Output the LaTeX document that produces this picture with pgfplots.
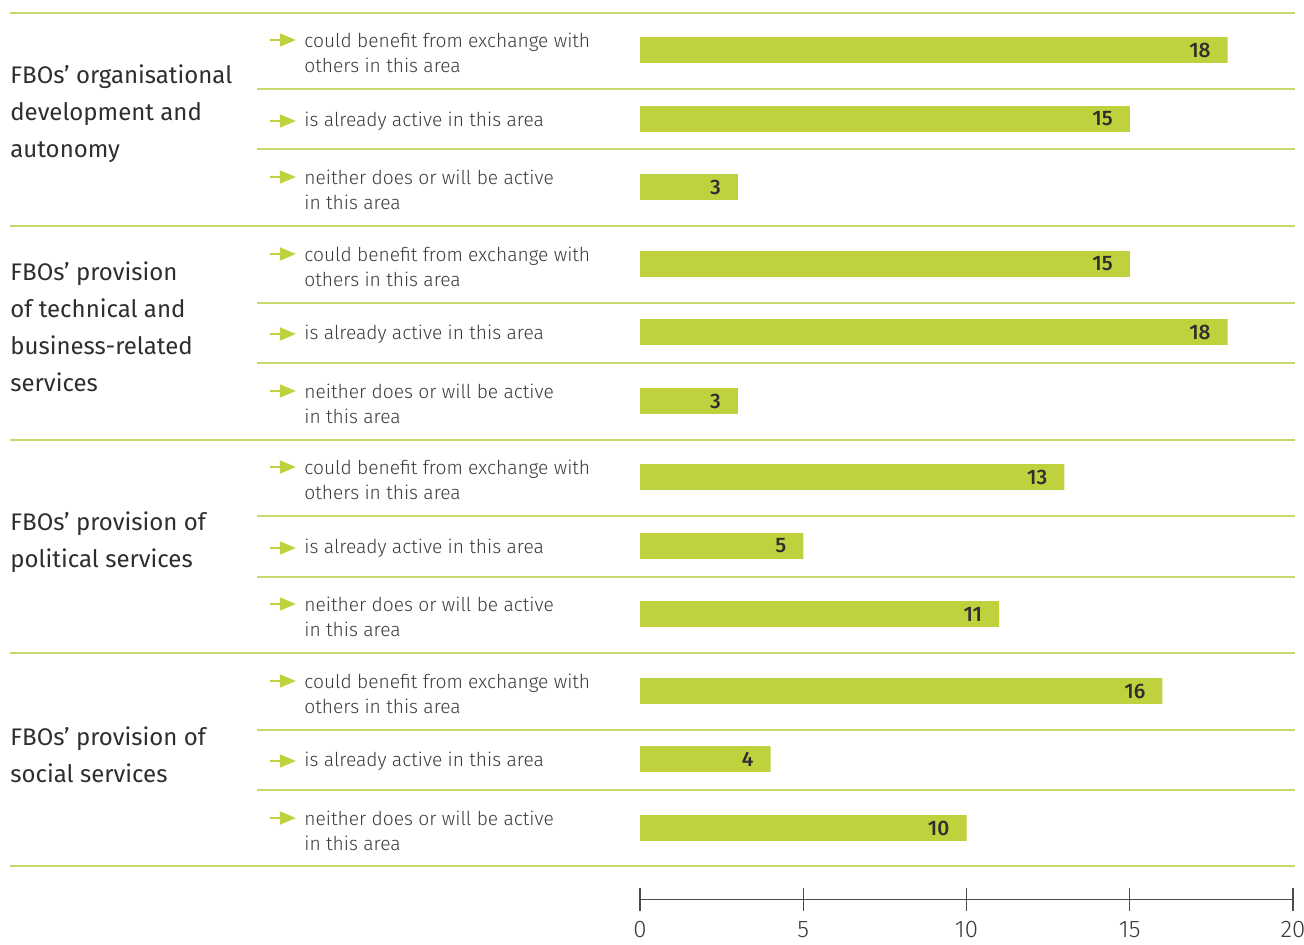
\documentclass[border=0pt]{standalone}
\usepackage{pgfplots}
\pgfplotsset{compat=1.18}
\usepackage{fontspec}
\setmainfont{Fira Sans}
\newfontfamily\lightfont{Fira Sans Light}
\newfontfamily\medfont{Fira Sans Medium}
\usetikzlibrary{arrows.meta}
\definecolor{lime}{HTML}{BFD23E}
\definecolor{limeline}{HTML}{C6D96A}
\definecolor{txt}{HTML}{2E2E2E}
\definecolor{txtl}{HTML}{3A3A3A}
\begin{document}
\begin{tikzpicture}
\begin{axis}[
  scale only axis,
  width=652pt, height=449.75pt,
  xmin=-19.602, xmax=20.337,
  ymin=38.5, ymax=938,
  axis line style={draw=none},
  xtick={0,5,10,15,20},
  xtick pos=bottom,
  ytick=\empty,
  tick align=center,
  major tick length=11.5pt,
  tick style={black!70, line width=0.6pt},
  /pgf/number format/assume math mode=true,
  xticklabel style={font=\lightfont\fontsize{12}{14}\selectfont, text=txtl, yshift=-1.5pt},
  clip=false,
  nodes near coords,
  every node near coord/.append style={anchor=east, xshift=-5pt, font=\medfont\fontsize{10.5}{12}\selectfont, text=txt},
]
\addplot[xbar, bar width=12.8pt, fill=lime, draw=none, bar shift=0pt,
  point meta=explicit symbolic] table[meta=v] {
x y v
18 888 18
15 819 15
3 751 3
15 674 15
18 606 18
3 537 3
13 461 13
5 392 5
11 324 11
16 247 16
4 179 4
10 110 10
};
% x axis line
\draw[black!70, line width=0.6pt] (axis cs:0,38.5) -- (axis cs:20,38.5);
% separators
\pgfplotsinvokeforeach{925,712,498,285,72}{
  \draw[limeline, line width=0.8pt] (axis cs:-19.30,#1) -- (axis cs:20.06,#1);
}
\pgfplotsinvokeforeach{849,789,635,575,422,361,208,148}{
  \draw[limeline, line width=0.8pt] (axis cs:-11.73,#1) -- (axis cs:20.06,#1);
}
% group labels
\tikzset{grp/.style={anchor=west, align=left, font=\fontsize{12}{18.5}\selectfont, text=txt, inner sep=0pt}}
\node[grp] at (axis cs:-19.296,824) {FBOs' organisational\\development and\\autonomy};
\node[grp] at (axis cs:-19.296,611) {FBOs' provision\\of technical and\\business-related\\services};
\node[grp] at (axis cs:-19.296,396) {FBOs' provision of\\political services};
\node[grp] at (axis cs:-19.296,183) {FBOs' provision of\\social services};
% item labels
\tikzset{itm/.style={anchor=west, align=left, font=\lightfont\fontsize{9.6}{12.5}\selectfont, text=txtl, inner sep=0pt},
         arr/.style={lime, line width=1pt, -{Triangle[length=8pt,width=6.5pt]}}}
% could benefit rows (label centre, arrow y)
\node[itm] at (axis cs:-10.29,885.5) {could benefit from exchange with\\others in this area};
\draw[arr] (axis cs:-11.33,898) -- (axis cs:-10.54,898);
\node[itm] at (axis cs:-10.29,671.5) {could benefit from exchange with\\others in this area};
\draw[arr] (axis cs:-11.33,684) -- (axis cs:-10.54,684);
\node[itm] at (axis cs:-10.29,458.5) {could benefit from exchange with\\others in this area};
\draw[arr] (axis cs:-11.33,471) -- (axis cs:-10.54,471);
\node[itm] at (axis cs:-10.29,244.5) {could benefit from exchange with\\others in this area};
\draw[arr] (axis cs:-11.33,257) -- (axis cs:-10.54,257);
% already active rows
\node[itm] at (axis cs:-10.29,817) {is already active in this area};
\draw[arr] (axis cs:-11.33,817) -- (axis cs:-10.54,817);
\node[itm] at (axis cs:-10.29,604) {is already active in this area};
\draw[arr] (axis cs:-11.33,604) -- (axis cs:-10.54,604);
\node[itm] at (axis cs:-10.29,390) {is already active in this area};
\draw[arr] (axis cs:-11.33,390) -- (axis cs:-10.54,390);
\node[itm] at (axis cs:-10.29,177) {is already active in this area};
\draw[arr] (axis cs:-11.33,177) -- (axis cs:-10.54,177);
% neither rows
\node[itm] at (axis cs:-10.29,748.5) {neither does or will be active\\in this area};
\draw[arr] (axis cs:-11.33,761) -- (axis cs:-10.54,761);
\node[itm] at (axis cs:-10.29,534.5) {neither does or will be active\\in this area};
\draw[arr] (axis cs:-11.33,547) -- (axis cs:-10.54,547);
\node[itm] at (axis cs:-10.29,321.5) {neither does or will be active\\in this area};
\draw[arr] (axis cs:-11.33,334) -- (axis cs:-10.54,334);
\node[itm] at (axis cs:-10.29,107.5) {neither does or will be active\\in this area};
\draw[arr] (axis cs:-11.33,120) -- (axis cs:-10.54,120);
\end{axis}
\pgfresetboundingbox
\path[use as bounding box] (current axis.north west) rectangle ([yshift=-22.5pt]current axis.south east);
\end{tikzpicture}
\end{document}
